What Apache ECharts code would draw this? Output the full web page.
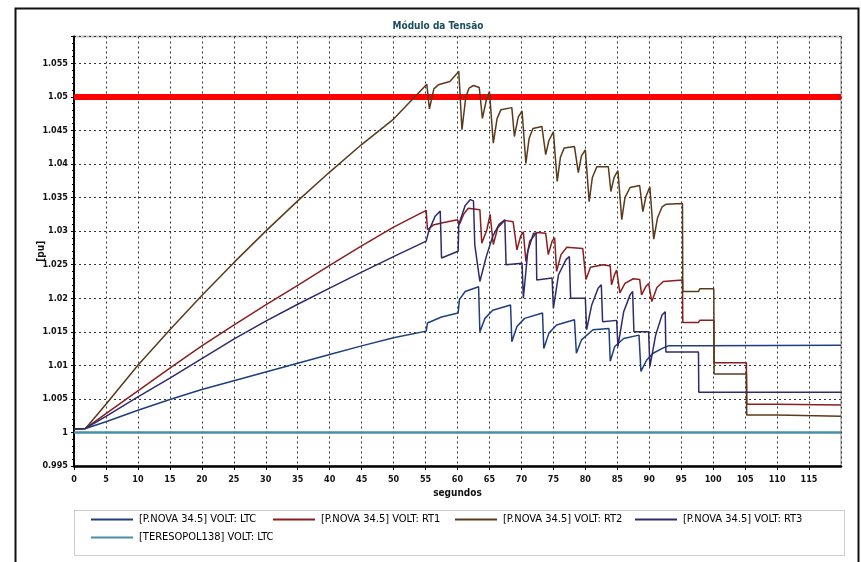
<!DOCTYPE html>
<html><head><meta charset="utf-8">
<script src="https://cdn.jsdelivr.net/npm/echarts@6/dist/echarts.min.js"></script>
<style>html,body{margin:0;padding:0;background:#fff}#c{width:861px;height:562px}</style>
</head><body><div id="c"></div>
<script>
// ---- data (time in s, voltage in pu) ----
const chartTitle = 'Módulo da Tensão';
const xAxisName = 'segundos';
const yAxisName = '[pu]';
const seriesNames = ['[P.NOVA 34.5] VOLT: LTC','[P.NOVA 34.5] VOLT: RT1','[P.NOVA 34.5] VOLT: RT2','[P.NOVA 34.5] VOLT: RT3','[TERESOPOL138] VOLT: LTC'];

const ltc = [[0,1.0005],[1.8,1.0006],[5,1.0016],[10,1.0033],[15,1.0049],[20,1.0064],[25,1.0077],[30,1.0090],[35,1.0103],[40,1.0116],[45,1.0129],[50,1.0141],[55.1,1.0151],
 [55.3,1.0163],[57.5,1.0172],[60.1,1.0178],[60.3,1.0198],[61.2,1.0210],[63.3,1.0217],[63.5,1.0150],[64.3,1.0170],[65.5,1.0182],[68.3,1.0190],
 [68.5,1.0135],[69.3,1.0158],[70.5,1.0170],[73.3,1.0178],[73.5,1.0125],[74.3,1.0148],[75.5,1.0160],[78.3,1.0168],[78.6,1.0118],[79.4,1.0138],
 [81.2,1.0153],[83.7,1.0155],[83.9,1.0106],[84.6,1.0128],[86.0,1.0140],[88.4,1.0145],[88.7,1.0091],[89.6,1.0108],[90.6,1.0118],[92.2,1.0126],
 [93.0,1.0129],[97.7,1.0129],[97.9,1.0130],[120,1.0130]];

const rt1 = [[0,1.0005],[1.8,1.0006],[5,1.0028],[10,1.0062],[15,1.0096],[20,1.0129],[25,1.0160],[30,1.0190],[35,1.0219],[40,1.0249],[45,1.0278],[50,1.0306],[55.1,1.0331],
 [55.3,1.0302],[56.2,1.0309],[57.5,1.0312],[60.0,1.0317],[60.3,1.0310],[61.0,1.0326],[61.7,1.0334],[63.5,1.0332],[63.8,1.0282],[64.6,1.0302],[65.1,1.0325],
 [65.6,1.0280],[66.3,1.0305],[67.4,1.0316],[68.7,1.0314],[69.3,1.0272],[69.9,1.0293],[70.3,1.0299],[70.7,1.0255],[71.3,1.0285],[72.4,1.0298],[73.8,1.0297],
 [74.2,1.0265],[74.8,1.0285],[75.2,1.0290],[75.5,1.0240],[76.2,1.0265],[77.1,1.0276],[79.6,1.0274],[80.1,1.0228],[80.8,1.0246],[82.8,1.0250],[83.9,1.0248],
 [84.1,1.0220],[84.6,1.0236],[84.9,1.0242],[85.4,1.0208],[86.2,1.0222],[87.5,1.0229],[88.5,1.0228],[88.8,1.0205],[89.5,1.0218],[89.9,1.0222],[90.4,1.0195],
 [91.2,1.0216],[92.2,1.0225],[95.2,1.0227],[95.25,1.0164],[97.7,1.0164],[97.9,1.0167],[100.1,1.0167],[100.15,1.0104],[105.2,1.0104],[105.25,1.0042],
 [110,1.0042],[110.2,1.0041],[120,1.0041]];

const rt2 = [[0,1.0005],[1.8,1.0006],[5,1.0042],[10,1.0100],[15,1.0153],[20,1.0204],[25,1.0253],[30,1.0300],[35,1.0345],[40,1.0388],[45,1.0429],[50,1.0467],[55.2,1.0519],
 [55.6,1.0482],[56.3,1.0512],[57,1.0518],[58.8,1.0523],[60.2,1.0538],
 [60.7,1.0451],[61.3,1.0500],[61.8,1.0513],[62.5,1.0517],[63.4,1.0514],
 [63.9,1.0468],[64.5,1.0495],[65.0,1.0508],[65.6,1.0431],[66.2,1.0468],[66.8,1.0481],[68.5,1.0484],
 [68.9,1.0441],[69.5,1.0470],[70.1,1.0479],[70.7,1.0401],[71.2,1.0438],[71.8,1.0453],[73.2,1.0456],
 [73.8,1.0414],[74.3,1.0435],[75.0,1.0448],[75.6,1.0374],[76.1,1.0410],[76.7,1.0424],[78.3,1.0426],
 [78.9,1.0387],[79.4,1.0412],[80.0,1.0421],[80.6,1.0344],[81.1,1.0380],[81.8,1.0396],[83.6,1.0396],
 [84.0,1.0359],[84.5,1.0380],[85.1,1.0390],[85.7,1.0317],[86.2,1.0350],[87.0,1.0365],[88.5,1.0368],
 [89.0,1.0329],[89.5,1.0352],[90.1,1.0366],[90.7,1.0288],[91.3,1.0320],[92.0,1.0336],[92.6,1.0340],[95.2,1.0341],
 [95.25,1.0210],[97.7,1.0210],[97.9,1.0214],[100.1,1.0214],[100.15,1.0087],[105.2,1.0087],[105.25,1.0026],[110,1.0026],[110.2,1.0024],[120,1.0024]];

const rt3 = [[0,1.0005],[1.8,1.0006],[5,1.0024],[10,1.0053],[15,1.0081],[20,1.0110],[25,1.0139],[30,1.0166],[35,1.0191],[40,1.0215],[45,1.0239],[50,1.0262],[55.1,1.0285],
 [55.5,1.0300],[56.5,1.0322],[57.3,1.0330],[57.5,1.0260],[60.1,1.0270],[60.2,1.0310],[61.2,1.0338],[62.0,1.0347],[62.5,1.0345],[62.7,1.0280],[63.5,1.0225],
 [64.5,1.0262],[65.5,1.0292],[66.5,1.0310],[67.4,1.0317],[67.6,1.0250],[70.1,1.0252],[70.3,1.0200],[71.0,1.0270],[71.9,1.0297],[72.3,1.0297],[72.4,1.0227],
 [74.8,1.0230],[75.0,1.0185],[75.8,1.0235],[77.0,1.0258],[77.5,1.0262],[77.7,1.0200],[80.0,1.0200],[80.2,1.0153],[81.0,1.0190],[82.0,1.0215],[82.5,1.0220],
 [82.7,1.0165],[84.9,1.0167],[85.1,1.0128],[86.0,1.0180],[87.0,1.0205],[87.4,1.0210],[87.6,1.0150],[89.9,1.0150],[90.1,1.0098],[91.0,1.0145],[92.0,1.0175],
 [92.5,1.0180],[92.6,1.0120],[97.7,1.0120],[97.75,1.0060],[120,1.0060]];

const teresopol = [[0,1.0000],[120,1.0000]];
const limitLine = [[0,1.05],[120,1.05]];

const seriesData = [ltc, rt1, rt2, rt3, teresopol];
const seriesColors = ['#1d3f7e','#8a1f1f','#5b3a1a','#302a6c','#4690a8'];
const legendPos = [[91,514],[273,514],[455,514],[635,514],[91,532]];

const FONT = '"Liberation Sans Narrow","DejaVu Sans Condensed","Liberation Sans",Arial,sans-serif';
const fmt = v => String(Math.round(v*1000)/1000);

const chart = echarts.init(document.getElementById('c'), null, {renderer:'canvas'});
const series = seriesData.map((d,i)=>({
  name: seriesNames[i], type:'line', data:d, showSymbol:false, symbol:'none',
  lineStyle:{color:seriesColors[i], width: i===4 ? 2.5 : 1.5}, itemStyle:{color:seriesColors[i]},
  animation:false, z: 3
}));
series.push({name:'limite', type:'line', data:limitLine, showSymbol:false, symbol:'none',
  lineStyle:{color:'#ff0000', width:6}, itemStyle:{color:'#ff0000'}, animation:false, z:2});

chart.setOption({
  backgroundColor:'#fff',
  animation:false,
  title:{text:chartTitle, left:433, top:16, textAlign:'center',
    textStyle:{fontFamily:FONT, fontSize:10, fontWeight:'bold', color:'#1b4d5c'}},
  grid:{left:74, right:20, top:36.5, bottom:96, show:true, borderColor:'#c4c4c4', borderWidth:2, containLabel:false},
  xAxis:{type:'value', min:0, max:120, interval:5, name:xAxisName, nameLocation:'middle', nameGap:21,
    nameTextStyle:{fontFamily:FONT, fontSize:10, fontWeight:'bold', color:'#111'},
    axisLine:{show:true, lineStyle:{color:'#000', width:2.5}},
    axisTick:{show:true, inside:false, length:4, lineStyle:{color:'#000'}},
    axisLabel:{margin:9, showMaxLabel:false, fontFamily:FONT, fontSize:9, fontWeight:'bold', color:'#111', formatter:v=>String(v)},
    splitLine:{show:true, lineStyle:{color:'#333', width:1, type:[2,3]}}},
  yAxis:{type:'value', min:0.995, max:1.059, interval:0.005, name:yAxisName, nameLocation:'middle', nameGap:28, nameRotate:90,
    nameMoveOverlap:false,
    nameTextStyle:{fontFamily:FONT, fontSize:10, fontWeight:'bold', color:'#111'},
    axisLine:{show:true, lineStyle:{color:'#000', width:2}},
    axisTick:{show:true, length:3, lineStyle:{color:'#000'}},
    minorTick:{show:true, splitNumber:5, length:2, lineStyle:{color:'#000'}},
    axisLabel:{margin:6, showMaxLabel:false, fontFamily:FONT, fontSize:9, fontWeight:'bold', color:'#111', formatter:fmt},
    splitLine:{show:true, lineStyle:{color:'#333', width:1, type:[2,3]}}},
  legend: seriesNames.map((n,i)=>({data:[n], left:legendPos[i][0], top:legendPos[i][1], padding:0, itemGap:0,
    icon:'rect', itemWidth:42, itemHeight:2, selectedMode:false,
    textStyle:{fontFamily:FONT, fontSize:11, color:'#000', padding:[0,0,0,1]}})),
  graphic:[
    {type:'rect', left:13, top:6, shape:{width:843, height:580}, style:{fill:null, stroke:'#111', lineWidth:2}, silent:true, z:-1},
    {type:'rect', left:72, top:508, shape:{width:770, height:45}, style:{fill:null, stroke:'#9a9a9a', lineWidth:1, lineDash:[1,1]}, silent:true, z:-1}
  ],
  series: series
});
</script></body></html>
